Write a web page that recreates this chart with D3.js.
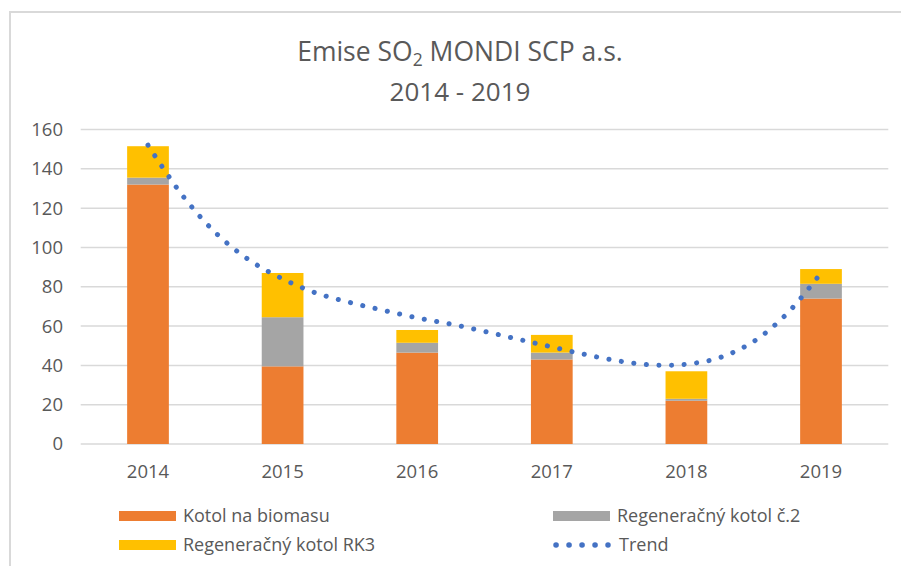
<!DOCTYPE html>
<html>
<head>
<meta charset="utf-8">
<script src="https://cdn.jsdelivr.net/npm/d3@7"></script>
<style>
  body { margin: 0; background: #fff; }
  svg text { font-family: "Open Sans", sans-serif; fill: #595959; }
</style>
</head>
<body>
<div id="app"></div>
<script>
// data
const years = ['2014', '2015', '2016', '2017', '2018', '2019']
const kotolBiomasa = [132, 39.5, 46.5, 43, 22, 74]
const kotolC2 = [3.5, 25, 5, 3.5, 1, 7.5]
const kotolRK3 = [16, 22.5, 6.5, 9, 14, 7.5]
const yTicks = [0, 20, 40, 60, 80, 100, 120, 140, 160]
// trend line (Excel polynomial trendline) read at quarter-year steps
const trendX = [2014, 2014.25, 2014.5, 2014.75, 2015, 2015.25, 2015.5, 2015.75, 2016, 2016.25, 2016.5, 2016.75,
  2017, 2017.25, 2017.5, 2017.75, 2018, 2018.25, 2018.5, 2018.75, 2019]
const trendY = [152, 127, 107.6, 93.7, 84, 76.8, 72, 68, 64.2, 61, 57.3, 53.3,
  49.4, 45.5, 42.2, 40.2, 40.6, 44, 52.2, 66.5, 87]

const seriesNames = ['Kotol na biomasu', 'Regeneračný kotol č.2', 'Regeneračný kotol RK3']
const seriesColors = ['#ED7D31', '#A5A5A5', '#FFC000']
const trendColor = '#4472C4'

const size = { width: 901, height: 566 }
const plot = { left: 80.7, right: 888.3, top: 129.5, bottom: 444 }

const svg = d3.select('#app').append('svg')
  .attr('width', size.width)
  .attr('height', size.height)

// chart frame (only top and left edges visible in the crop)
svg.append('path')
  .attr('d', `M10,${size.height} V12 H${size.width}`)
  .attr('fill', 'none')
  .attr('stroke', '#d9d9d9')
  .attr('stroke-width', 2)

// title
const title = svg.append('text')
  .attr('x', 460)
  .attr('y', 61)
  .attr('text-anchor', 'middle')
  .style('font-size', '26.5px')
title.append('tspan').text('Emise SO')
title.append('tspan').attr('dy', 5).style('font-size', '17.5px').text('2')
title.append('tspan').attr('dy', -5).text(' MONDI SCP a.s.')
svg.append('text')
  .attr('x', 460)
  .attr('y', 101)
  .attr('text-anchor', 'middle')
  .style('font-size', '26px')
  .text('2014 - 2019')

const x = d3.scaleBand()
  .domain(years)
  .range([plot.left, plot.right])
  .paddingInner(0.69)
  .paddingOuter(0.345)

const y = d3.scaleLinear()
  .domain([0, 160])
  .range([plot.bottom, plot.top])

// grid
svg.append('g')
  .selectAll('line')
  .data(yTicks)
  .enter()
  .append('line')
  .attr('x1', plot.left)
  .attr('x2', plot.right)
  .attr('y1', d => y(d))
  .attr('y2', d => y(d))
  .attr('stroke', '#d9d9d9')
  .attr('stroke-width', 1.5)

// y labels
svg.append('g')
  .selectAll('text')
  .data(yTicks)
  .enter()
  .append('text')
  .attr('x', 63)
  .attr('y', d => y(d))
  .attr('dy', '0.35em')
  .attr('text-anchor', 'end')
  .style('font-size', '18.5px')
  .text(d => d)

// x labels
svg.append('g')
  .selectAll('text')
  .data(years)
  .enter()
  .append('text')
  .attr('x', d => x(d) + x.bandwidth() / 2)
  .attr('y', 472)
  .attr('dy', '0.35em')
  .attr('text-anchor', 'middle')
  .style('font-size', '18.5px')
  .text(d => d)

// stacked bars
const table = years.map((yr, i) => ({ year: yr, a: kotolBiomasa[i], b: kotolC2[i], c: kotolRK3[i] }))
const stacked = d3.stack().keys(['a', 'b', 'c'])(table)

svg.append('g')
  .selectAll('g')
  .data(stacked)
  .enter()
  .append('g')
  .attr('fill', (d, i) => seriesColors[i])
  .selectAll('rect')
  .data(d => d)
  .enter()
  .append('rect')
  .attr('x', d => x(d.data.year))
  .attr('width', x.bandwidth())
  .attr('y', d => y(d[1]))
  .attr('height', d => y(d[0]) - y(d[1]))

// trend
const xTrend = d3.scaleLinear()
  .domain([2014, 2019])
  .range([x('2014') + x.bandwidth() / 2, x('2019') + x.bandwidth() / 2])

const trendLine = d3.line()
  .x(d => xTrend(d[0]))
  .y(d => y(d[1]))
  .curve(d3.curveCatmullRom)

svg.append('path')
  .datum(trendX.map((v, i) => [v, trendY[i]]))
  .attr('d', trendLine)
  .attr('fill', 'none')
  .attr('stroke', trendColor)
  .attr('stroke-width', 5)
  .attr('stroke-linecap', 'round')
  .attr('stroke-dasharray', '0.1 12.5')

// legend
const legendItems = [
  { name: seriesNames[0], color: seriesColors[0], x: 119, y: 516 },
  { name: seriesNames[1], color: seriesColors[1], x: 553, y: 516 },
  { name: seriesNames[2], color: seriesColors[2], x: 119, y: 545 },
  { name: 'Trend', color: trendColor, x: 553, y: 545, dotted: true }
]

const legend = svg.append('g')
  .selectAll('g')
  .data(legendItems)
  .enter()
  .append('g')
  .attr('transform', d => `translate(${d.x},${d.y})`)

legend.filter(d => !d.dotted)
  .append('rect')
  .attr('x', 0)
  .attr('y', -5)
  .attr('width', 57)
  .attr('height', 10)
  .attr('fill', d => d.color)

legend.filter(d => d.dotted)
  .append('line')
  .attr('x1', 3)
  .attr('x2', 55)
  .attr('stroke', d => d.color)
  .attr('stroke-width', 5.5)
  .attr('stroke-linecap', 'round')
  .attr('stroke-dasharray', '0.1 12.9')

legend.append('text')
  .attr('x', d => d.dotted ? 66 : 64)
  .attr('dy', '0.35em')
  .style('font-size', '18px')
  .text(d => d.name)
</script>
</body>
</html>
